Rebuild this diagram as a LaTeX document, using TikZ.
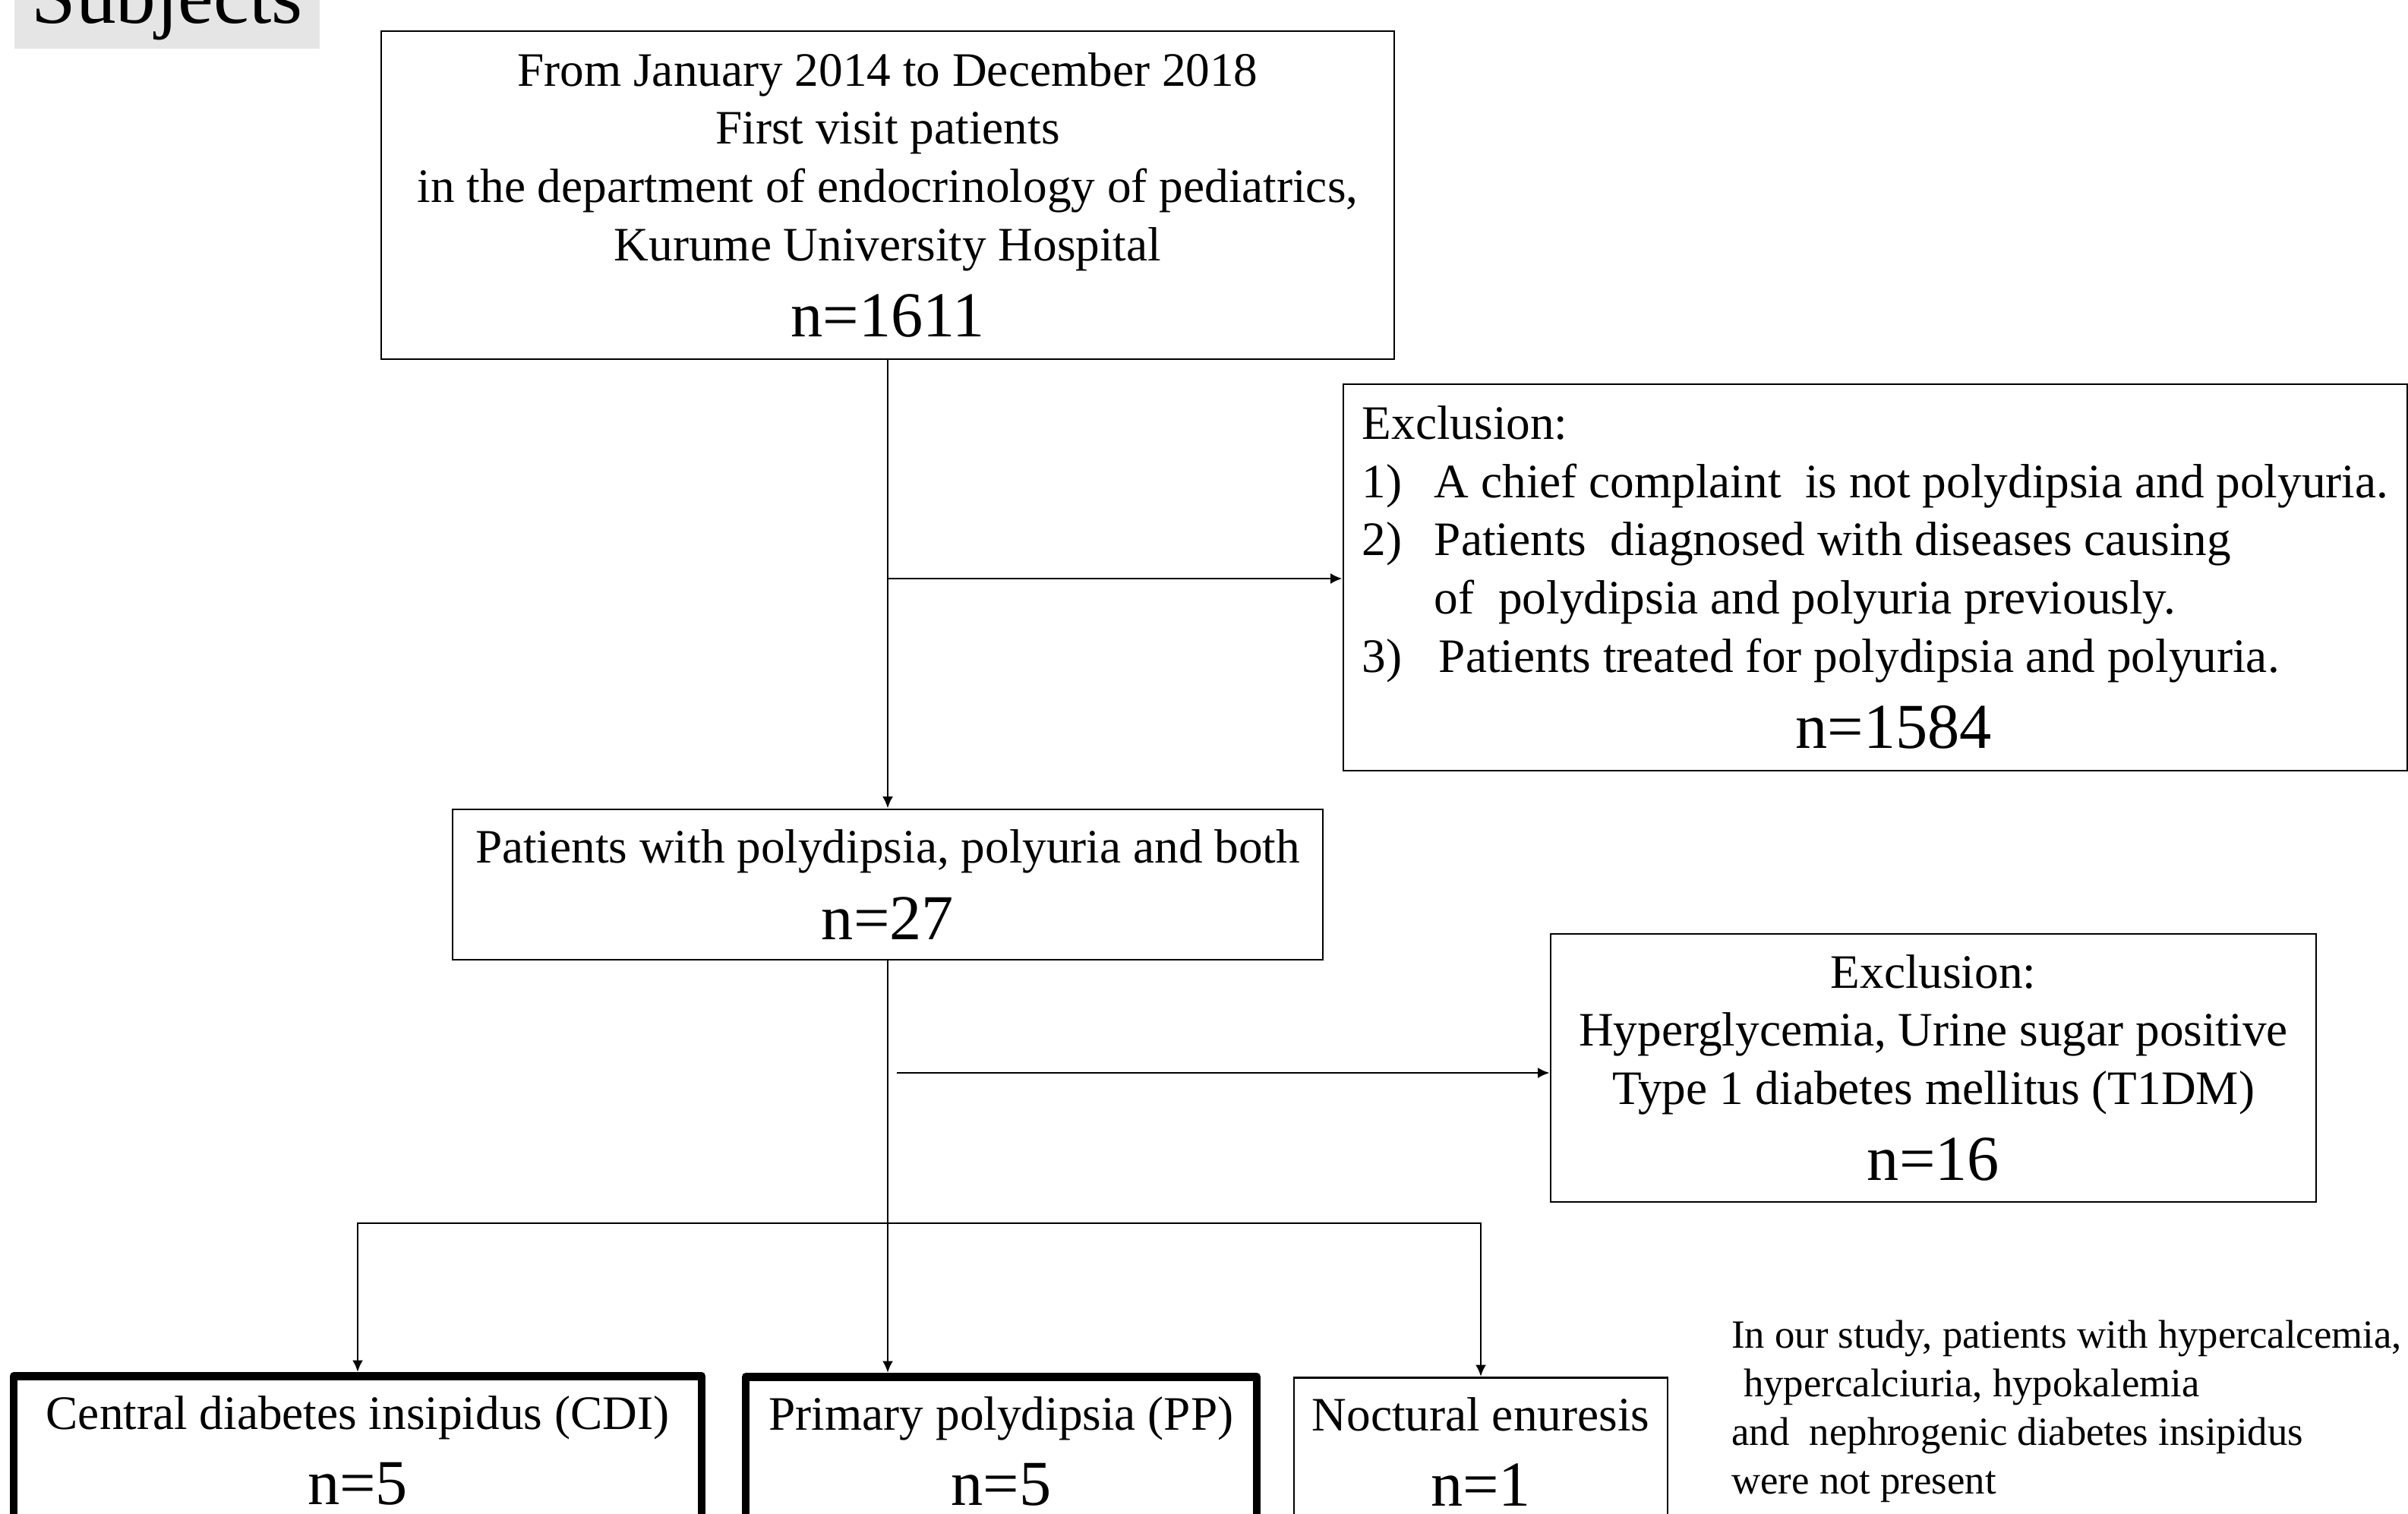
\documentclass[tikz,border=0pt]{standalone}
\usepackage{fontspec}
\setmainfont{Liberation Serif}
\usetikzlibrary{arrows.meta}
\newcommand{\nsize}{\fontsize{24}{28}\selectfont}
\begin{document}
\begin{tikzpicture}[>={Latex[length=4.4pt,width=4pt]}, line width=0.8pt,
    font=\fontsize{18}{21.8}\selectfont,
    box/.style={draw, align=center, inner sep=0pt},
    bold/.style={box, line width=3.1pt, line join=round}]
    \useasboundingbox (0,0) rectangle (31.71,-19.94);
    \node[fill=gray!20, anchor=base west, inner xsep=0.22cm, inner ysep=0.11cm, text height=0.75cm, text depth=0.23cm, font=\fontsize{30}{36}\selectfont] (subj) at (0.18,-0.30) {Subjects};
    \node[box, minimum width=13.34cm, minimum height=4.32cm] (top) at (11.69,-2.57) {From January 2014 to December 2018\\ First visit patients\\ in the department of endocrinology of pediatrics,\\ Kurume University Hospital\\[6.8pt] {\nsize n=1611}};
    \node[box, align=left, minimum width=14.01cm, minimum height=5.09cm] (excl) at (24.695,-7.605) {Exclusion:\\
        \makebox[0.95cm][l]{1)}A chief complaint\ \ is not polydipsia and polyuria.\\
        \makebox[0.95cm][l]{2)}Patients\ \ diagnosed with diseases causing\\
        \hspace*{0.95cm}of\ \ polydipsia and polyuria previously.\\
        \makebox[1.01cm][l]{3)}Patients treated for polydipsia and polyuria.\\[6.8pt]
        \hspace*{\fill}\hspace*{0.48cm}{\nsize n=1584}\hspace*{\fill}};
    \node[box, minimum width=11.46cm, minimum height=1.98cm] (pts) at (11.69,-11.65) {Patients with polydipsia, polyuria and both\\[6.8pt] {\nsize n=27}};
    \node[box, minimum width=10.08cm, minimum height=3.53cm] (excl2) at (25.46,-14.065) {Exclusion:\\ Hyperglycemia, Urine sugar positive\\ Type 1 diabetes mellitus (T1DM)\\[6.8pt] {\nsize n=16}};
    \node[bold, anchor=north, minimum width=9.06cm, inner ysep=0.26cm] (cdi) at (4.71,-18.07) {Central diabetes insipidus (CDI)\\[6.3pt] {\nsize n=5}};
    \node[bold, anchor=north, minimum width=6.73cm, inner ysep=0.26cm] (pp) at (13.185,-18.08) {Primary polydipsia (PP)\\[6.3pt] {\nsize n=5}};
    \node[box, anchor=north, minimum width=4.92cm, inner ysep=0.26cm] (ne) at (19.50,-18.13) {Noctural enuresis\\[6.3pt] {\nsize n=1}};
    \node[anchor=north west, align=left, inner sep=0pt, font=\fontsize{15}{18.3}\selectfont] (note) at (22.79,-17.37) {In our study, patients with hypercalcemia,\\ \hspace*{0.3em}hypercalciuria, hypokalemia\\ and\ \ nephrogenic diabetes insipidus\\ were not present};
    \coordinate (j1) at (11.69,-7.62);
    \coordinate (j2) at (11.81,-14.13);
    \coordinate (fork) at (11.69,-16.11);
    \draw[->] (top.south) -- (pts.north);
    \draw[->] (j1) -- (j1 -| excl.west);
    \draw[->] (j2) -- (j2 -| excl2.west);
    \draw[->] (pts.south) -- (pts.south |- pp.north);
    \draw[<->] (cdi.north) |- (fork) -| (ne.north);
\end{tikzpicture}
\end{document}
